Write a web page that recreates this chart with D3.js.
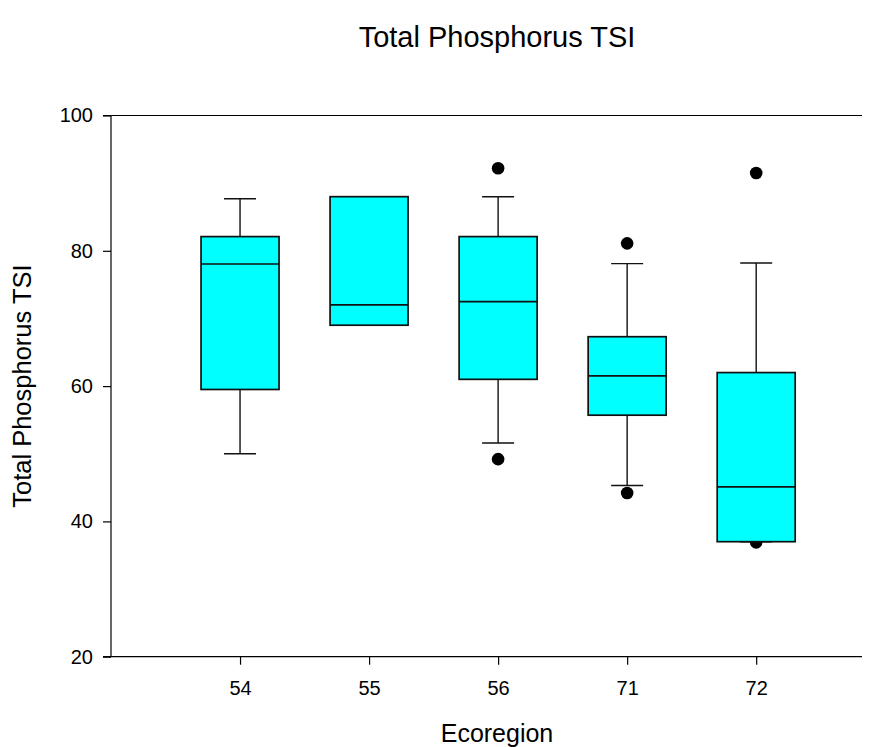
<!DOCTYPE html>
<html>
<head>
<meta charset="utf-8">
<script src="https://cdn.jsdelivr.net/npm/d3@7"></script>
<style>
  html, body { margin: 0; padding: 0; background: #fff; }
  text { font-family: "Liberation Sans", Arial, sans-serif; fill: #000; }
</style>
</head>
<body>
<svg id="chart" width="874" height="747"></svg>
<script>
// ---- data ----
const categories = ["54", "55", "56", "71", "72"];
const lowerWhisker = [50.0, null, 51.6, 45.3, 37.0];
const q1Values     = [59.5, 69.0, 61.0, 55.7, 37.0];
const medianValues = [78.05, 72.0, 72.5, 61.5, 45.1];
const q3Values     = [82.1, 88.0, 82.1, 67.3, 62.0];
const upperWhisker = [87.7, null, 88.0, 78.1, 78.2];
const outlierValues = [[], [], [49.2, 92.2], [44.2, 81.1], [36.9, 91.5]];
const yTicks = [20, 40, 60, 80, 100];

const chartTitle = "Total Phosphorus TSI";
const xTitle = "Ecoregion";
const yTitle = "Total Phosphorus TSI";

// ---- layout ----
const svg = d3.select("#chart");
const plotLeft = 111, plotRight = 862, plotTop = 115.5, plotBottom = 656.7;

const x = d3.scaleLinear().domain([0, 5.82]).range([plotLeft, plotRight]);
const y = d3.scaleLinear().domain([20, 100]).range([plotBottom, plotTop]);
const boxW = 78, capW = 32;

const boxes = categories.map((c, i) => ({
  cat: c, pos: i + 1,
  lo: lowerWhisker[i], q1: q1Values[i], med: medianValues[i],
  q3: q3Values[i], hi: upperWhisker[i], out: outlierValues[i]
}));

// top frame line
svg.append("line")
  .attr("x1", plotLeft - 8).attr("x2", plotRight)
  .attr("y1", y(100)).attr("y2", y(100))
  .attr("stroke", "#000").attr("stroke-width", 1.2);

// y axis
const yAxis = d3.axisLeft(y).tickValues(yTicks).tickSize(8).tickPadding(10).tickFormat(d3.format("d"));
const gy = svg.append("g").attr("transform", `translate(${plotLeft},0)`).call(yAxis);
gy.select(".domain").attr("stroke", "#000").attr("stroke-width", 1.2).attr("d", `M0,${plotBottom}V${plotTop}`);
gy.selectAll(".tick line").attr("stroke", "#000").attr("stroke-width", 1.2);
gy.selectAll(".tick text").style("font-size", "20px").style("font-family", "Liberation Sans, Arial, sans-serif");

// x axis
const xAxis = d3.axisBottom(x).tickValues(boxes.map(b => b.pos))
  .tickFormat((d, i) => categories[i]).tickSize(8).tickPadding(16);
const gx = svg.append("g").attr("transform", `translate(0,${plotBottom})`).call(xAxis);
gx.select(".domain").attr("stroke", "#000").attr("stroke-width", 1.2).attr("d", `M${plotLeft - 8},0H${plotRight}`);
gx.selectAll(".tick line").attr("stroke", "#000").attr("stroke-width", 1.2);
gx.selectAll(".tick text").style("font-size", "20px").style("font-family", "Liberation Sans, Arial, sans-serif");

// outliers (drawn beneath boxes)
const g = svg.append("g");
boxes.forEach(b => {
  g.selectAll(null).data(b.out).enter().append("circle")
    .attr("cx", x(b.pos)).attr("cy", d => y(d)).attr("r", 6.3).attr("fill", "#000");
});

// whiskers
boxes.filter(b => b.lo != null).forEach(b => {
  const cx = x(b.pos);
  const ws = [[b.lo, b.q1], [b.hi, b.q3]];
  ws.forEach(([end, edge]) => {
    g.append("line").attr("x1", cx).attr("x2", cx).attr("y1", y(end)).attr("y2", y(edge))
      .attr("stroke", "#111").attr("stroke-width", 1.4);
    g.append("line").attr("x1", cx - capW / 2).attr("x2", cx + capW / 2).attr("y1", y(end)).attr("y2", y(end))
      .attr("stroke", "#111").attr("stroke-width", 1.4);
  });
});

// boxes
g.selectAll("rect.box").data(boxes).enter().append("rect").attr("class", "box")
  .attr("x", b => x(b.pos) - boxW / 2).attr("width", boxW)
  .attr("y", b => y(b.q3)).attr("height", b => y(b.q1) - y(b.q3))
  .attr("fill", "#00ffff").attr("stroke", "#111").attr("stroke-width", 1.7);

// medians
g.selectAll("line.med").data(boxes).enter().append("line").attr("class", "med")
  .attr("x1", b => x(b.pos) - boxW / 2).attr("x2", b => x(b.pos) + boxW / 2)
  .attr("y1", b => y(b.med)).attr("y2", b => y(b.med))
  .attr("stroke", "#111").attr("stroke-width", 1.7);

// titles
svg.append("text").attr("x", 497).attr("y", 47).attr("text-anchor", "middle")
  .style("font-size", "29px").text(chartTitle);
svg.append("text").attr("x", 497).attr("y", 742).attr("text-anchor", "middle")
  .style("font-size", "25px").text(xTitle);
svg.append("text").attr("transform", `translate(31,${(plotTop + plotBottom) / 2}) rotate(-90)`)
  .attr("text-anchor", "middle").style("font-size", "25.5px").text(yTitle);
</script>
</body>
</html>
